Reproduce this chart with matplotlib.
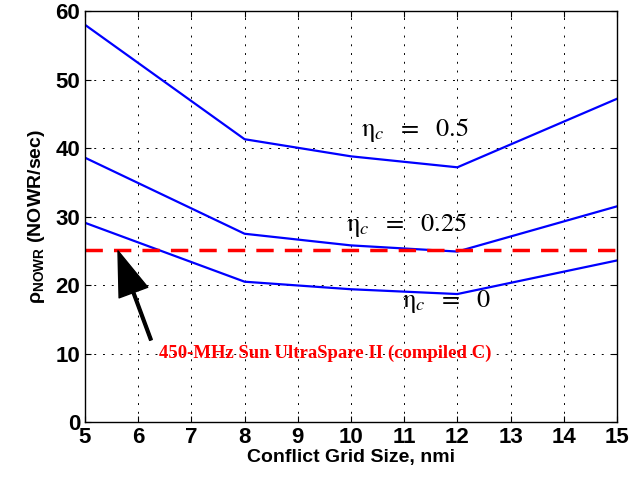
import matplotlib.pyplot as plt

plt.rcParams["mathtext.fontset"] = "stix"

grid_size = [5, 8, 10, 12, 15]
rate_eta_05 = [58.0, 41.3, 38.8, 37.2, 47.2]
rate_eta_025 = [38.6, 27.5, 25.8, 24.9, 31.5]
rate_eta_0 = [29.1, 20.5, 19.4, 18.7, 23.6]
sun_rate = 25.2

fig = plt.figure(figsize=(6.44, 4.83), dpi=100)
ax = fig.add_axes([0.132, 0.126, 0.826, 0.851])

for y in [rate_eta_05, rate_eta_025, rate_eta_0]:
    ax.plot(grid_size, y, color="#0000ff", lw=1.6)
ax.axhline(sun_rate, color="#ff0000", lw=2.5, ls=(0, (5, 3.2)))

ax.set_xlim(5, 15)
ax.set_ylim(0, 60)
ax.set_xticks(range(5, 16))
ax.set_yticks(range(0, 61, 10))
ax.grid(True, color="black", ls=(0, (2, 7)), lw=0.7)
ax.tick_params(direction="in", length=4, labelsize=16, top=True, right=True)
for lab in ax.get_xticklabels() + ax.get_yticklabels():
    lab.set_family("Liberation Sans")
    lab.set_fontweight("bold")
for s in ax.spines.values():
    s.set_linewidth(1.0)

ax.set_xlabel("Conflict Grid Size, nmi", family="Liberation Sans",
              fontweight="bold", fontsize=14, labelpad=1)
ax.set_ylabel(r"$\mathregular{\rho_{NOWR}}$ (NOWR/sec)", family="Liberation Sans",
              fontweight="bold", fontsize=14, labelpad=6)

serif = dict(family="Liberation Serif", fontsize=19)
ax.text(11.2, 42.6, r"$\mathrm{\eta}_c\ \ =\ \ \mathrm{0.5}$", ha="center", va="center", **serif)
ax.text(11.05, 28.8, r"$\mathrm{\eta}_c\ \ =\ \ \mathrm{0.25}$", ha="center", va="center", **serif)
ax.text(11.8, 17.6, r"$\mathrm{\eta}_c\ \ =\ \ \mathrm{0}$", ha="center", va="center", **serif)

ax.text(9.52, 10.0, "450-MHz Sun UltraSpare II (compiled C)", color="#ff0000",
        family="Liberation Serif", fontweight="bold", fontsize=13.5,
        ha="center", va="center")
ax.annotate("", xy=(5.62, 25.0), xytext=(6.24, 12.0),
            arrowprops=dict(facecolor="black", edgecolor="black", width=2,
                            headwidth=22, headlength=32, shrink=0))

fig.savefig("out.png", dpi=100)
